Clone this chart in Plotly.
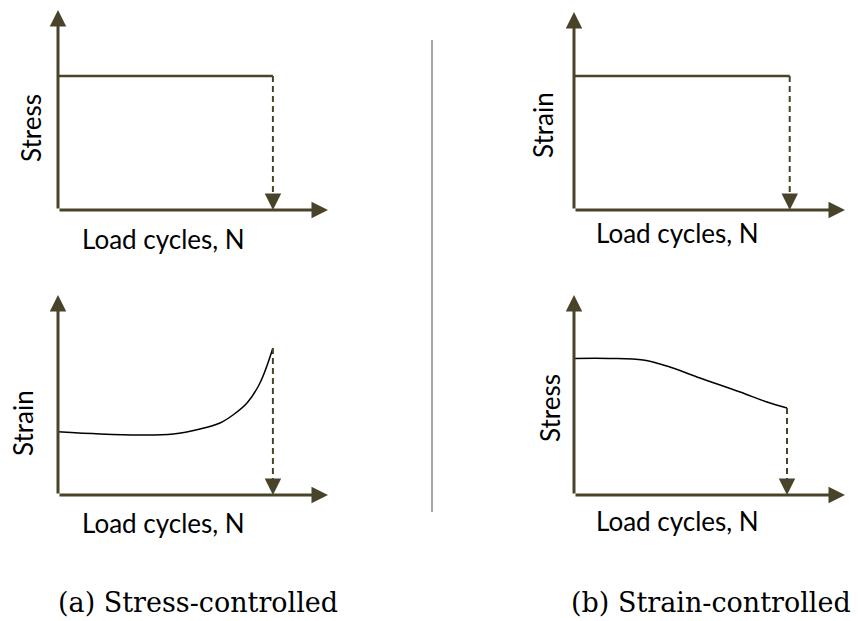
import plotly.graph_objects as go

# schematic values, normalised 0..1 on each small panel (1 = arrow tip)
stress_ctrl_cycles = [0.0, 0.796]
stress_ctrl_stress = [0.67, 0.67]

stress_ctrl_strain_cycles = [0.0, 0.156, 0.304, 0.427, 0.526, 0.6, 0.648, 0.7, 0.748, 0.796]
stress_ctrl_strain = [0.316, 0.305, 0.30, 0.305, 0.33, 0.36, 0.40, 0.46, 0.56, 0.735]

strain_ctrl_cycles = [0.0, 0.796]
strain_ctrl_strain = [0.677, 0.677]

strain_ctrl_stress_cycles = [0.0, 0.133, 0.255, 0.343, 0.465, 0.613, 0.712, 0.786]
strain_ctrl_stress = [0.683, 0.683, 0.675, 0.645, 0.585, 0.515, 0.465, 0.435]

x_label = "Load cycles, N"
captions = ["(a) Stress-controlled", "(b) Strain-controlled"]

W, H = 858, 621
AXIS_COL = "#494429"

# panel pixel boxes: (y-axis x, arrow tip x, x-axis y, arrow tip y)
panels = [
    (58, 328, 210, 10),
    (574, 845, 210, 12),
    (58, 328, 495, 295),
    (574, 845, 495, 295),
]

fig = go.Figure()
layout = dict(width=W, height=H, margin=dict(l=0, r=0, t=0, b=0),
              paper_bgcolor="white", plot_bgcolor="rgba(0,0,0,0)",
              showlegend=False)
annotations = []
for i, (x0, x1, yb, yt) in enumerate(panels):
    n = "" if i == 0 else str(i + 1)
    layout["xaxis" + n] = dict(domain=[x0 / W, x1 / W], range=[0, 1], visible=False,
                               anchor="y" + n, fixedrange=True)
    layout["yaxis" + n] = dict(domain=[(H - yb) / H, (H - yt) / H], range=[0, 1],
                               visible=False, anchor="x" + n, fixedrange=True)
    xr, yr = "x" + n, "y" + n
    # axes with arrow heads
    for hx, hy in [(1, 0), (0, 1)]:
        annotations.append(dict(x=hx, y=hy, ax=0, ay=0, xref=xr, yref=yr, axref=xr, ayref=yr,
                                text="", showarrow=True, arrowhead=2, arrowsize=1.1,
                                arrowwidth=3, arrowcolor=AXIS_COL))

series = [
    (stress_ctrl_cycles, stress_ctrl_stress, AXIS_COL, 2.5),
    (strain_ctrl_cycles, strain_ctrl_strain, AXIS_COL, 2.5),
    (stress_ctrl_strain_cycles, stress_ctrl_strain, "black", 1.5),
    (strain_ctrl_stress_cycles, strain_ctrl_stress, "black", 1.5),
]
for i, (xs, ys, col, w) in enumerate(series):
    n = "" if i == 0 else str(i + 1)
    fig.add_trace(go.Scatter(x=xs, y=ys, mode="lines", xaxis="x" + n, yaxis="y" + n,
                             line=dict(color=col, width=w, shape="spline", smoothing=1.0),
                             hoverinfo="skip"))
    # failure: dashed drop to the cycle axis
    xf, yf = xs[-1], ys[-1]
    fig.add_trace(go.Scatter(x=[xf, xf], y=[yf, 0.05], mode="lines", xaxis="x" + n, yaxis="y" + n,
                             line=dict(color=AXIS_COL, width=2, dash="6px,4px"),
                             hoverinfo="skip"))
    annotations.append(dict(x=xf, y=0, xref="x" + n, yref="y" + n, ax=0, ay=-17,
                            text="", showarrow=True, arrowhead=2, arrowsize=1.65,
                            arrowwidth=2, arrowcolor=AXIS_COL))

label_font = dict(family="Lato", size=26, color="black")
# (text, x px, y px, rotated)
labels = [
    ("Stress", 31, 128, True), (x_label, 163, 239, False),
    ("Strain", 543, 125, True), (x_label, 677, 233, False),
    ("Strain", 23, 423, True), (x_label, 163, 523, False),
    ("Stress", 550, 408, True), (x_label, 677, 521, False),
]
for txt, px, py, rot in labels:
    annotations.append(dict(text=txt, x=px / W, y=(H - py) / H, xref="paper", yref="paper",
                            showarrow=False, xanchor="center", yanchor="middle",
                            textangle=-90 if rot else 0, font=label_font))

cap_font = dict(family="DejaVu Serif", size=27, color="black")
for txt, px in zip(captions, [198, 711]):
    annotations.append(dict(text=txt, x=px / W, y=(H - 602) / H, xref="paper", yref="paper",
                            showarrow=False, xanchor="center", yanchor="middle", font=cap_font))

layout["annotations"] = annotations
layout["shapes"] = [dict(type="line", xref="paper", yref="paper",
                         x0=432 / W, x1=432 / W, y0=(H - 40) / H, y1=(H - 512) / H,
                         line=dict(color="#888888", width=1.5))]
fig.update_layout(**layout)

fig.write_html("out.html", config={"displayModeBar": False},
               post_script="document.body.style.margin='0';")
